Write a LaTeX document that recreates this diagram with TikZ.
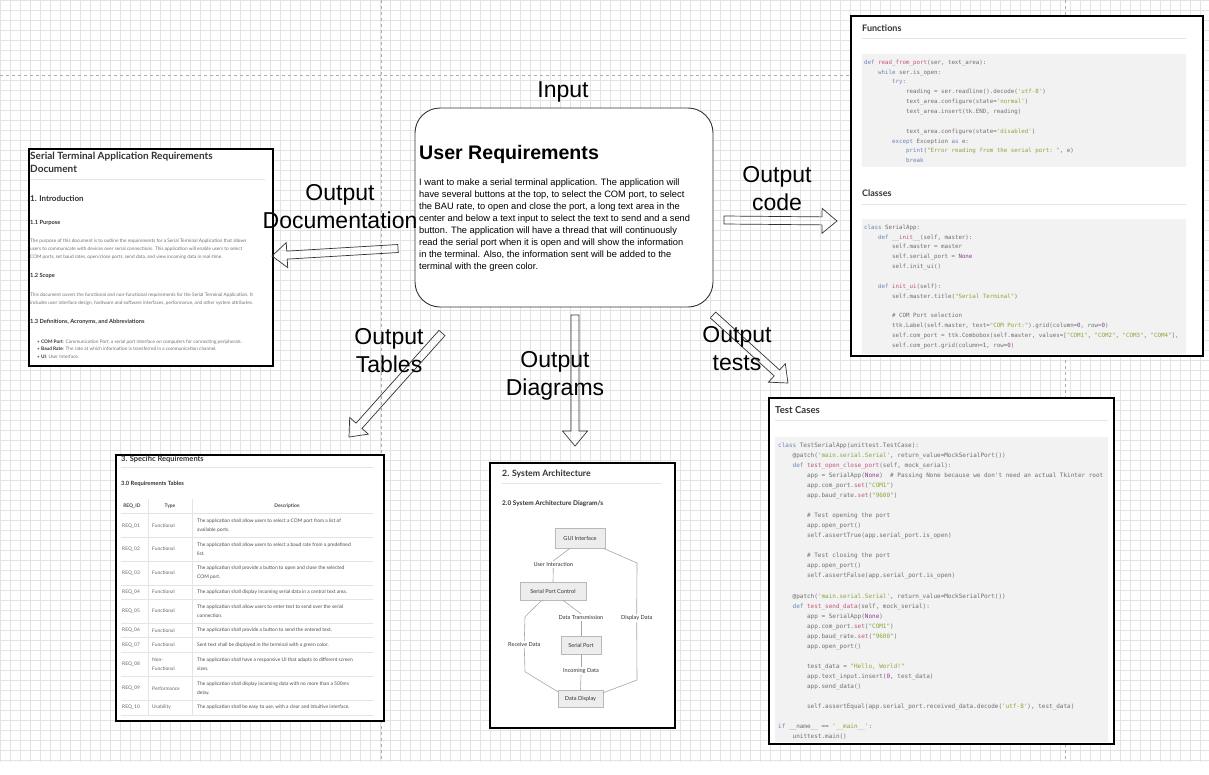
\documentclass[tikz,border=0pt]{standalone}
\usepackage{fontspec}
\setmainfont{Liberation Sans}
\setmonofont{DejaVu Sans Mono}
\newfontfamily\docfont{Lato}
\usetikzlibrary{calc,positioning}

\definecolor{gridgray}{HTML}{E3E3E3}
\definecolor{headc}{HTML}{333333}
\definecolor{parac}{HTML}{707070}
\definecolor{cellc}{HTML}{666666}
\definecolor{rulec}{HTML}{E4E4E4}
\definecolor{codebg}{HTML}{F2F2F2}
\definecolor{codec}{HTML}{6E6E6E}
\definecolor{kwc}{HTML}{6A84B8}
\definecolor{fnc}{HTML}{C2557C}
\definecolor{strc}{HTML}{8AA63A}
\definecolor{litc}{HTML}{8E3E8E}

\newcommand\ind{\hspace*{2.41em}}
\newcommand\kw[1]{\textcolor{kwc}{#1}}
\newcommand\fnm[1]{\textcolor{fnc}{#1}}
\newcommand\sq[1]{\textcolor{strc}{#1}}
\newcommand\lit[1]{\textcolor{litc}{#1}}
% outlined block arrow from #1 to the tip #2
\newcommand\blockarrow[2]{%
  \coordinate (neck) at ($(#2)!15pt!(#1)$);
  \draw[flexarrow] ($(#1)!4pt!90:(#2)$) -- ($(neck)!4pt!90:(#2)$)
    -- ($(neck)!12.5pt!90:(#2)$) -- (#2) -- ($(neck)!12.5pt!-90:(#2)$)
    -- ($(neck)!4pt!-90:(#2)$) -- ($(#1)!4pt!-90:(#2)$) -- cycle;}

\tikzset{
  gridline/.style={draw=gridgray, line width=0.5pt},
  guide/.style={draw=gray!65, dashed, line width=0.8pt},
  shot/.style={draw=black, line width=1.6pt, fill=white, anchor=north west, inner sep=0pt},
  reqbox/.style={draw=black!80, line width=0.9pt, rounded corners=25pt, fill=white},
  flexarrow/.style={draw=black!80, line width=0.7pt, line join=miter},
  biglabel/.style={font=\fontsize{23}{28}\selectfont, align=center, inner sep=0pt},
  hd/.style={inner sep=0pt, text=headc, font={\docfont\bfseries\fontsize{#1}{12.4}\selectfont}},
  tx/.style={inner sep=0pt, text=parac, align=left, anchor=north west, font={\docfont\fontsize{4.75}{#1}\selectfont}},
  rule/.style={draw=rulec, line width=0.8pt},
  code/.style={inner sep=0pt, text=codec, align=left, anchor=north west},
  cell/.style={anchor=west, inner sep=0pt, align=left, text=cellc, font={\docfont\fontsize{4.9}{9}\selectfont}},
  th/.style={inner sep=0pt, text=headc!90, font={\docfont\bfseries\fontsize{4.9}{6}\selectfont}},
  archbox/.style={draw=gray!55, fill=gray!14, line width=0.5pt, inner sep=0pt, text=black!80, font={\docfont\fontsize{5.6}{6}\selectfont}},
  archlbl/.style={inner sep=1.2pt, text=black!80, font={\docfont\fontsize{5.6}{6}\selectfont}},
  archedge/.style={draw=gray!70, line width=0.6pt}
}

\begin{document}
\begin{tikzpicture}[x=1pt,y=-1pt]
  \useasboundingbox (0,0) rectangle (1209,774);
  \fill[white] (0,0) rectangle (1209,774);
  \draw[gridline, step=10pt] (0,762) grid (1209,0);
  \draw[guide] (0,75) -- (850,75);
  \draw[guide] (381,0) -- (381,762);
  \draw[guide] (1065,0) -- (1065,762);

  % documentation screenshot
  \node[shot, minimum width=244, minimum height=217] (docshot) at (28,148) {};
  \node[hd=10, align=left, anchor=north west] (doctitle) at (30,152) {Serial Terminal Application Requirements\\Document};
  \draw[rule] (30,179) -- (265,179);
  \node[hd=8, anchor=base west] (intro) at (30,201.7) {1. Introduction};
  \node[hd=5.7, anchor=base west] (purp) at (30,224) {1.1 Purpose};
  \node[tx=8.3] (purptx) at (30,238.3) {The purpose of this document is to outline the requirements for a Serial Terminal Application that allows\\users to communicate with devices over serial connections. This application will enable users to select\\COM ports, set baud rates, open/close ports, send data, and view incoming data in real-time.};
  \node[hd=5.7, anchor=base west] (scope) at (30,277.7) {1.2 Scope};
  \node[tx=8.6] (scopetx) at (30,292.3) {This document covers the functional and non-functional requirements for the Serial Terminal Application. It\\includes user interface design, hardware and software interfaces, performance, and other system attributes.};
  \node[hd=5.7, anchor=base west] (defs) at (30,323.3) {1.3 Definitions, Acronyms, and Abbreviations};
  \node[tx=7.8] (defstx) at (37,339.3) {\textbullet\ \textcolor{headc}{\textbf{COM Port}}: Communication Port, a serial port interface on computers for connecting peripherals.\\\textbullet\ \textcolor{headc}{\textbf{Baud Rate}}: The rate at which information is transferred in a communication channel.\\\textbullet\ \textcolor{headc}{\textbf{UI}}: User Interface.};

  % code screenshot
  \node[shot, minimum width=352, minimum height=340] (funcshot) at (850,15) {};
  \node[hd=9, anchor=base west] (funchd) at (862,31) {Functions};
  \draw[rule] (862,38) -- (1186,38);
  \fill[codebg] (862,54) rectangle (1186,167);
  \node[code, font={\ttfamily\fontsize{5.8}{9.85}\selectfont}] (funccode) at (864,59.6) {%
\kw{def} \fnm{read\_from\_port}(ser, text\_area):\\
\ind \kw{while} ser.is\_open:\\
\ind\ind \kw{try}:\\
\ind\ind\ind reading = ser.readline().decode(\sq{'utf-8'})\\
\ind\ind\ind text\_area.configure(state=\sq{'normal'})\\
\ind\ind\ind text\_area.insert(tk.END, reading)\\
\mbox{}\\
\ind\ind\ind text\_area.configure(state=\sq{'disabled'})\\
\ind\ind \kw{except} Exception \kw{as} e:\\
\ind\ind\ind \kw{print}(\sq{"Error reading from the serial port: "}, e)\\
\ind\ind\ind \kw{break}};
  \node[hd=9, anchor=base west] (clshd) at (862,196.7) {Classes};
  \draw[rule] (862,204) -- (1186,204);
  \fill[codebg] (862,219) rectangle (1186,354);
  \node[code, font={\ttfamily\fontsize{5.8}{9.85}\selectfont}] (clscode) at (864,224.6) {%
\kw{class} SerialApp:\\
\ind \kw{def} \fnm{\_\_init\_\_}(self, master):\\
\ind\ind self.master = master\\
\ind\ind self.serial\_port = \lit{None}\\
\ind\ind self.init\_ui()\\
\mbox{}\\
\ind \kw{def} \fnm{init\_ui}(self):\\
\ind\ind self.master.title(\sq{"Serial Terminal"})\\
\mbox{}\\
\ind\ind \# COM Port selection\\
\ind\ind ttk.Label(self.master, text=\sq{"COM Port:"}).grid(column=\lit{0}, row=\lit{0})\\
\ind\ind self.com\_port = ttk.Combobox(self.master, values=[\sq{"COM1"}, \sq{"COM2"}, \sq{"COM3"}, \sq{"COM4"}],\\
\ind\ind self.com\_port.grid(column=\lit{1}, row=\lit{0})};

  % test screenshot
  \node[shot, minimum width=345, minimum height=346] (testshot) at (768,397) {};
  \node[hd=9.6, anchor=base west] (testhd) at (775,413.3) {Test Cases};
  \draw[rule] (775,420) -- (1108,420);
  \fill[codebg] (775,437) rectangle (1108,742);
  \node[code, font={\ttfamily\fontsize{6}{10.06}\selectfont}] (testcode) at (778,442.4) {%
\kw{class} TestSerialApp(unittest.TestCase):\\
\ind @patch(\sq{'main.serial.Serial'}, return\_value=MockSerialPort())\\
\ind \kw{def} \fnm{test\_open\_close\_port}(self, mock\_serial):\\
\ind\ind app = SerialApp(\lit{None})\ \ \# Passing None because we don't need an actual Tkinter root\\
\ind\ind app.com\_port.\fnm{set}(\sq{"COM1"})\\
\ind\ind app.baud\_rate.\fnm{set}(\sq{"9600"})\\
\mbox{}\\
\ind\ind \# Test opening the port\\
\ind\ind app.open\_port()\\
\ind\ind self.assertTrue(app.serial\_port.is\_open)\\
\mbox{}\\
\ind\ind \# Test closing the port\\
\ind\ind app.open\_port()\\
\ind\ind self.assertFalse(app.serial\_port.is\_open)\\
\mbox{}\\
\ind @patch(\sq{'main.serial.Serial'}, return\_value=MockSerialPort())\\
\ind \kw{def} \fnm{test\_send\_data}(self, mock\_serial):\\
\ind\ind app = SerialApp(\lit{None})\\
\ind\ind app.com\_port.\fnm{set}(\sq{"COM1"})\\
\ind\ind app.baud\_rate.\fnm{set}(\sq{"9600"})\\
\ind\ind app.open\_port()\\
\mbox{}\\
\ind\ind test\_data = \sq{"Hello, World!"}\\
\ind\ind app.text\_input.insert(\lit{0}, test\_data)\\
\ind\ind app.send\_data()\\
\mbox{}\\
\ind\ind self.assertEqual(app.serial\_port.received\_data.decode(\sq{'utf-8'}), test\_data)\\
\mbox{}\\
\kw{if} \_\_name\_\_ == \sq{'\_\_main\_\_'}:\\
\ind unittest.main()};

  % tables screenshot
  \node[shot, minimum width=268, minimum height=266] (specshot) at (115,454) {};
  \node[hd=7.5, anchor=base west] (spechd) at (121,461) {3. Specific Requirements};
  \draw[rule] (121,467) -- (373,467);
  \node[hd=5.8, anchor=base west] (spectab) at (121,485) {3.0 Requirements Tables};
  \node[th] (threq) at (132,505.7) {REQ\_ID};
  \node[th] (thtype) at (170,505.7) {Type};
  \node[th] (thdesc) at (287,505.7) {Description};
  \draw[rule] (148.7,499) -- (148.7,715);
  \draw[rule] (192.7,499) -- (192.7,715);
  \foreach \sy in {513.3,537.3,561.7,585,599,623.3,637.7,652.3,676.7,700,715}
    \draw[rule] (121,\sy) -- (373,\sy);
  \foreach \yc/\rid/\rtype/\rdesc [count=\k] in {
    525.7/REQ\_01/Functional/{The application shall allow users to select a COM port from a list of\\available ports.},
    549/REQ\_02/Functional/{The application shall allow users to select a baud rate from a predefined\\list.},
    573/REQ\_03/Functional/{The application shall provide a button to open and close the selected\\COM port.},
    592/REQ\_04/Functional/{The application shall display incoming serial data in a central text area.},
    611/REQ\_05/Functional/{The application shall allow users to enter text to send over the serial\\connection.},
    630.3/REQ\_06/Functional/{The application shall provide a button to send the entered text.},
    645/REQ\_07/Functional/{Sent text shall be displayed in the terminal with a green color.},
    664.3/REQ\_08/{Non-\\Functional}/{The application shall have a responsive UI that adapts to different screen\\sizes.},
    688.3/REQ\_09/Performance/{The application shall display incoming data with no more than a 500ms\\delay.},
    707/REQ\_10/Usability/{The application shall be easy to use, with a clear and intuitive interface.}} {
    \node[cell] (rowid\k) at (122,\yc) {\rid};
    \node[cell] (rowty\k) at (152,\yc) {\rtype};
    \node[cell, text=black!70] (rowds\k) at (197,\yc) {\rdesc};
  }

  % diagrams screenshot
  \node[shot, minimum width=185, minimum height=265] (archshot) at (489,462) {};
  \node[hd=8.7, anchor=base west] (archhd) at (502,476.7) {2. System Architecture};
  \draw[rule] (502,483) -- (662,483);
  \node[hd=6.5, anchor=base west] (archsub) at (502,505.3) {2.0 System Architecture Diagram/s};
  \node[archbox, minimum width=50, minimum height=20] (gui) at (580,538) {GUI Interface};
  \node[archbox, minimum width=66, minimum height=18] (spc) at (553,591) {Serial Port Control};
  \node[archbox, minimum width=40, minimum height=18] (sp) at (581,645) {Serial Port};
  \node[archbox, minimum width=45, minimum height=17] (dd) at (580.5,698.5) {Data Display};
  \node[archlbl] (ui) at (553.3,564.3) {User Interaction};
  \node[archlbl] (dsp) at (636.7,618.3) {Display Data};
  \node[archlbl] (dtx) at (581,617.3) {Data Transmission};
  \node[archlbl] (rcv) at (524.3,644.3) {Receive Data};
  \node[archlbl] (inc) at (581,671) {Incoming Data};
  \draw[archedge] ($(gui.south)+(-10,0)$) -- (ui.north);
  \draw[archedge] (ui.south) -- (spc.north);
  \draw[archedge] ($(gui.south east)+(-2,0)$) -- (637,563) -- (dsp.north);
  \draw[archedge] (dsp.south) -- (637,680) -- ($(dd.north east)+(0,3)$);
  \draw[archedge] ($(spc.south)+(10,0)$) -- (dtx.north);
  \draw[archedge] (dtx.south) -- (sp.north);
  \draw[archedge] ($(spc.south west)+(22,0)$) -- (525,616.7) -- (rcv.north);
  \draw[archedge] (rcv.south) -- (525,671.7) -- ($(dd.north west)+(0,2)$);
  \draw[archedge] (sp.south) -- (inc.north);
  \draw[archedge] (inc.south) -- (dd.north);

  % user requirements
  \node[reqbox, minimum width=298, minimum height=199] (req) at (564,207.5) {};
  \node[inner sep=0pt, anchor=base west, font=\bfseries\fontsize{19.6}{22}\selectfont] (reqtitle) at (419,159.3) {User Requirements};
  \node[inner sep=0pt, anchor=north west, align=left, font=\fontsize{9.3}{11.94}\selectfont] (reqtext) at (419,179) {I want to make a serial terminal application. The application will\\have several buttons at the top, to select the COM port, to select\\the BAU rate, to open and close the port, a long text area in the\\center and below a text input to select the text to send and a send\\button. The application will have a thread that will continuously\\read the serial port when it is open and will show the information\\in the terminal. Also, the information sent will be added to the\\terminal with the green color.};

  % arrows
  \coordinate (docS) at (398,248.5);
  \coordinate (docT) at (272,256);
  \coordinate (codeS) at (724,220);
  \coordinate (codeT) at (837,221);
  \coordinate (tabS) at (442,333);
  \coordinate (tabT) at (349,437);
  \coordinate (diaS) at (575,315);
  \coordinate (diaT) at (575,446);
  \coordinate (testS) at (713,315);
  \coordinate (testT) at (788,383);
  \blockarrow{docS}{docT}
  \blockarrow{codeS}{codeT}
  \blockarrow{tabS}{tabT}
  \blockarrow{diaS}{diaT}
  \blockarrow{testS}{testT}

  \node[biglabel, anchor=base] (input) at (563,97) {Input};
  \node[biglabel] (outdoc) at (340,206.6) {Output\\Documentation};
  \node[biglabel] (outcode) at (777,188.6) {Output\\code};
  \node[biglabel] (outtab) at (389,350.6) {Output\\Tables};
  \node[biglabel] (outdia) at (555,376) {Output\\Diagrams};
  \node[biglabel] (outtest) at (737,348.6) {Output\\tests};
\end{tikzpicture}
\end{document}
